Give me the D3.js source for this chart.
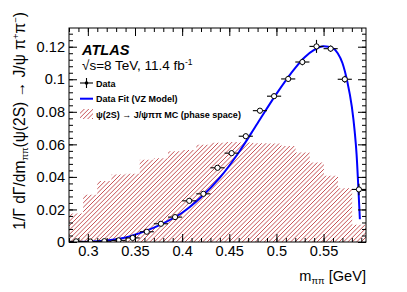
<!DOCTYPE html>
<html>
<head>
<meta charset="utf-8">
<script src="https://cdn.jsdelivr.net/npm/d3@7"></script>
<style>
body{margin:0;background:#fff}
text{font-family:"Liberation Sans",Arial,Helvetica,sans-serif}
</style>
</head>
<body>
<div id="chart"></div>
<script>
// bins of m_pipi [GeV]
const binLow = [0.28,0.295,0.31,0.325,0.34,0.355,0.37,0.385,0.40,0.415,0.43,0.445,0.46,0.475,0.49,0.505,0.52,0.535,0.55,0.565,0.58]
const binHigh = [0.295,0.31,0.325,0.34,0.355,0.37,0.385,0.40,0.415,0.43,0.445,0.46,0.475,0.49,0.505,0.52,0.535,0.55,0.565,0.58,0.595]
// data points
const dataVal = [0.0004,0.0003,0.0005,0.0010,0.0025,0.0063,0.0112,0.0153,0.0253,0.0296,0.0456,0.0546,0.0650,0.0807,0.0896,0.1002,0.1106,0.1202,0.1188,0.1000,0.0323]
const dataErr = [0.0003,0.0003,0.0003,0.0004,0.0005,0.0007,0.0008,0.0009,0.0011,0.0012,0.0014,0.0015,0.0016,0.0017,0.0018,0.0019,0.0020,0.0040,0.0020,0.0022,0.0035]
// phase space MC (hatched)
const mcVal = [0.0175,0.029,0.0375,0.0415,0.0420,0.0505,0.0515,0.0558,0.0565,0.0598,0.0610,0.0615,0.0612,0.0607,0.0605,0.0590,0.0550,0.0488,0.0407,0.0330,0.0106]
// fit curve (VZ model)
const fitX = [0.28,0.30,0.32,0.34,0.36,0.38,0.40,0.42,0.44,0.46,0.48,0.50,0.52,0.53,0.54,0.55,0.56,0.565,0.57,0.575,0.58,0.583,0.585,0.587,0.5885]
const fitY = [0.0,0.0002,0.0010,0.0028,0.0065,0.0115,0.0180,0.0275,0.0395,0.0550,0.0730,0.0910,0.1070,0.1135,0.1180,0.1203,0.1190,0.1160,0.1100,0.0990,0.0830,0.0680,0.0540,0.0320,0.0140]
// ticks
const xMajor = [0.3,0.35,0.4,0.45,0.5,0.55]
const yMajor = [0,0.02,0.04,0.06,0.08,0.1,0.12]

const W = 407, H = 292
const frame = {left: 69, right: 366, top: 28, bottom: 242}
const hatchCol = "#b8262b"

const svg = d3.select("#chart").append("svg")
  .attr("width", W)
  .attr("height", H)

const x = d3.scaleLinear().domain([0.28, 0.595]).range([frame.left, frame.right])
const y = d3.scaleLinear().domain([0, 0.1315]).range([frame.bottom, frame.top])

const defs = svg.append("defs")
const clip = defs.append("clipPath").attr("id", "frameclip")
clip.append("rect")
  .attr("x", frame.left).attr("y", frame.top)
  .attr("width", frame.right - frame.left).attr("height", frame.bottom - frame.top)

// clip shape of the MC histogram, hatching drawn through it
const mcClip = defs.append("clipPath").attr("id", "mcclip")
mcClip.selectAll("rect")
  .data(mcVal)
  .enter().append("rect")
  .attr("x", (d, i) => x(binLow[i]))
  .attr("width", (d, i) => Math.min(x(binHigh[i]), frame.right) - x(binLow[i]) + 0.3)
  .attr("y", d => y(d))
  .attr("height", d => y(0) - y(d))

function hatch(g, x0, y0, x1, y1, step) {
  const h = y1 - y0
  for (let k = x0 - h; k < x1; k += step) {
    g.append("line")
      .attr("x1", k).attr("y1", y1)
      .attr("x2", k + h).attr("y2", y0)
      .attr("stroke", hatchCol)
      .attr("stroke-width", 0.8)
  }
}

const plot = svg.append("g").attr("clip-path", "url(#frameclip)")

const mcG = plot.append("g").attr("clip-path", "url(#mcclip)")
hatch(mcG, frame.left, frame.top, frame.right, frame.bottom, 4.4)

// fit curve
const fitLine = d3.line()
  .x(d => x(d[0]))
  .y(d => y(d[1]))
  .curve(d3.curveMonotoneX)
plot.append("path")
  .datum(fitX.map((v, i) => [v, fitY[i]]))
  .attr("d", fitLine)
  .style("fill", "none")
  .style("stroke", "#0000ff")
  .style("stroke-width", 2)

// data points
const pts = dataVal.map((v, i) => ({lo: binLow[i], hi: binHigh[i], c: (binLow[i] + binHigh[i]) / 2, v: v, e: dataErr[i]}))
const pg = plot.selectAll(".pt")
  .data(pts)
  .enter().append("g")
  .attr("class", "pt")
pg.append("line")
  .attr("x1", d => x(d.lo)).attr("x2", d => x(d.hi))
  .attr("y1", d => y(d.v)).attr("y2", d => y(d.v))
  .style("stroke", "#000").style("stroke-width", 1.1)
pg.append("line")
  .attr("x1", d => x(d.c)).attr("x2", d => x(d.c))
  .attr("y1", d => y(d.v - d.e)).attr("y2", d => y(d.v + d.e))
  .style("stroke", "#000").style("stroke-width", 1.1)
pg.append("circle")
  .attr("cx", d => x(d.c)).attr("cy", d => y(d.v))
  .attr("r", 2.6)
  .style("fill", "#fff").style("stroke", "#000").style("stroke-width", 1)

// axes, ticks inside the frame
function drawAxis(axis, tx, ty, labels) {
  const g = svg.append("g")
    .attr("transform", "translate(" + tx + "," + ty + ")")
    .call(axis)
  g.select(".domain").remove()
  g.selectAll(".tick line").style("stroke", "#000").style("stroke-width", 1)
  g.selectAll("text")
    .style("font-size", labels ? "14.6px" : "0px")
    .style("fill", "#000")
  return g
}
const xMinor = d3.range(0.28, 0.5951, 0.01)
const yMinor = d3.range(0, 0.1316, 0.004)

drawAxis(d3.axisBottom(x).tickValues(xMinor).tickSize(-4).tickFormat(""), 0, frame.bottom, false)
drawAxis(d3.axisTop(x).tickValues(xMinor).tickSize(-4).tickFormat(""), 0, frame.top, false)
drawAxis(d3.axisTop(x).tickValues(xMajor).tickSize(-8).tickFormat(""), 0, frame.top, false)
drawAxis(d3.axisBottom(x).tickValues(xMajor).tickSize(-8).tickPadding(4).tickFormat(d => String(d)), 0, frame.bottom, true)

drawAxis(d3.axisLeft(y).tickValues(yMinor).tickSize(-4).tickFormat(""), frame.left, 0, false)
drawAxis(d3.axisRight(y).tickValues(yMinor).tickSize(-4).tickFormat(""), frame.right, 0, false)
drawAxis(d3.axisRight(y).tickValues(yMajor).tickSize(-8).tickFormat(""), frame.right, 0, false)
drawAxis(d3.axisLeft(y).tickValues(yMajor).tickSize(-8).tickPadding(4).tickFormat(d => String(d)), frame.left, 0, true)

// frame
svg.append("rect")
  .attr("x", frame.left).attr("y", frame.top)
  .attr("width", frame.right - frame.left).attr("height", frame.bottom - frame.top)
  .style("fill", "none").style("stroke", "#000").style("stroke-width", 1)

// x title
const xt = svg.append("text")
  .attr("x", frame.right).attr("y", 281)
  .style("text-anchor", "end")
  .style("font-size", "14.6px")
xt.append("tspan").text("m")
xt.append("tspan").attr("dy", 3).style("font-size", "9.5px").text("ππ")
xt.append("tspan").attr("dy", -3).text(" [GeV]")

// y title
const yt = svg.append("text")
  .attr("transform", "translate(25,12) rotate(-90)")
  .style("text-anchor", "end")
  .style("font-size", "15.6px")
yt.append("tspan").text("1/Γ dΓ/dm")
yt.append("tspan").attr("dy", 3).style("font-size", "9.5px").text("ππ")
yt.append("tspan").attr("dy", -3).text("(ψ(2S) → J/ψ π")
yt.append("tspan").attr("dy", -6).style("font-size", "9.5px").text("+")
yt.append("tspan").attr("dy", 6).text("π")
yt.append("tspan").attr("dy", -6).style("font-size", "9.5px").text("−")
yt.append("tspan").attr("dy", 6).text(")")

// ATLAS label
svg.append("text")
  .attr("x", 82).attr("y", 55)
  .style("font-size", "14.6px")
  .style("font-weight", "bold")
  .style("font-style", "italic")
  .text("ATLAS")
const en = svg.append("text")
  .attr("x", 82).attr("y", 70)
  .style("font-size", "13.5px")
en.append("tspan").text("√s=8 TeV, 11.4 fb")
en.append("tspan").attr("dy", -5).style("font-size", "8.5px").text("-1")

// legend
const leg = svg.append("g")
const lx = 80, lw = 13
// Data
leg.append("line").attr("x1", lx).attr("x2", lx + lw).attr("y1", 83).attr("y2", 83)
  .style("stroke", "#000").style("stroke-width", 1.1)
leg.append("line").attr("x1", lx + lw / 2).attr("x2", lx + lw / 2).attr("y1", 78).attr("y2", 88)
  .style("stroke", "#000").style("stroke-width", 1.1)
leg.append("circle").attr("cx", lx + lw / 2).attr("cy", 83).attr("r", 1.8).style("fill", "#000")
// Fit
leg.append("line").attr("x1", lx).attr("x2", lx + lw).attr("y1", 98.7).attr("y2", 98.7)
  .style("stroke", "#0000ff").style("stroke-width", 2)
// MC
defs.append("clipPath").attr("id", "legclip")
  .append("rect").attr("x", lx).attr("y", 109).attr("width", lw).attr("height", 10)
const legBox = leg.append("g").attr("clip-path", "url(#legclip)")
hatch(legBox, lx, 109, lx + lw, 119, 4.4)

const legText = ["Data", "Data Fit (VZ Model)", "ψ(2S) → J/ψππ MC (phase space)"]
const legY = [86.5, 102, 117.5]
leg.selectAll(".lt")
  .data(legText)
  .enter().append("text")
  .attr("class", "lt")
  .attr("x", 96)
  .attr("y", (d, i) => legY[i])
  .style("font-size", "9px")
  .style("font-weight", "bold")
  .text(d => d)
</script>
</body>
</html>
